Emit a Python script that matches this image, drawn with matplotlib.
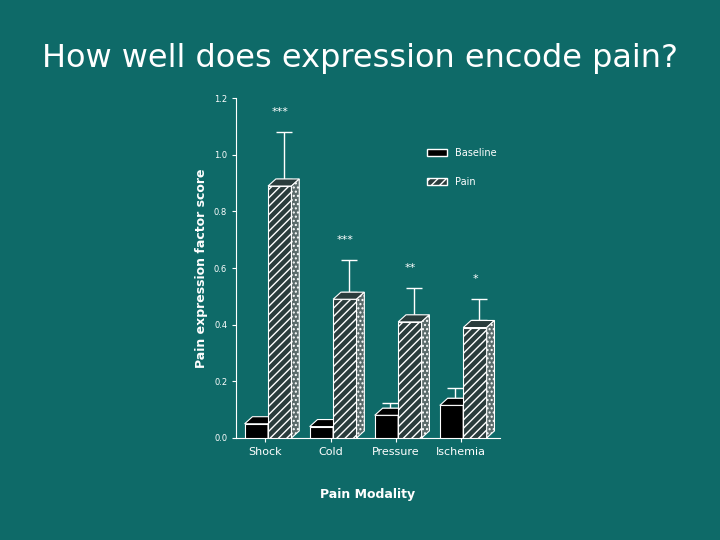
import matplotlib
matplotlib.use("Agg")
import matplotlib.pyplot as plt
import numpy as np
from matplotlib.patches import Polygon, Patch

categories = ["Shock", "Cold", "Pressure", "Ischemia"]
baseline = [0.05, 0.04, 0.08, 0.115]
baseline_err = [0.0, 0.0, 0.045, 0.06]
pain = [0.89, 0.49, 0.41, 0.39]
pain_err = [0.19, 0.14, 0.12, 0.10]
stars = ["***", "***", "**", "*"]

fig = plt.figure(figsize=(7.2, 5.4), dpi=100)
fig.patch.set_facecolor("#0e6a68")
fig.text(0.5, 0.875, "How well does expression encode pain?", color="white",
         fontsize=23, ha="center")

ax = fig.add_axes([0.328, 0.189, 0.366, 0.629])
ax.set_facecolor("none")
x = np.arange(len(categories))
w = 0.36
dx, dy = 0.12, 0.025
for i in range(len(categories)):
    xb = x[i] - 0.37
    xp = x[i] - 0.01
    for xs, v, e, fc, h in [(xb, baseline[i], baseline_err[i], "black", None),
                            (xp, pain[i], pain_err[i], "#2a3c3c", "////")]:
        ax.bar(xs, v, width=w, align="edge", color=fc, edgecolor="white",
               hatch=h, linewidth=0.8, zorder=3)
        ax.add_patch(Polygon([(xs, v), (xs + dx, v + dy), (xs + w + dx, v + dy), (xs + w, v)],
                             closed=True, fc=fc, ec="white", lw=0.8, zorder=3))
        ax.add_patch(Polygon([(xs + w, 0), (xs + w + dx, dy), (xs + w + dx, v + dy), (xs + w, v)],
                             closed=True, fc="#5a6a6a", ec="white", lw=0.8, hatch="....", zorder=3))
        if e > 0:
            ax.errorbar(xs + w / 2 + dx / 2, v + dy, yerr=[[0], [e - dy]], color="white",
                        capsize=6, lw=1, zorder=2)
    ax.text(xp + w / 2, pain[i] + pain_err[i] + 0.06, stars[i], color="white",
            ha="center", fontsize=8)

ax.set_ylim(0, 1.2)
ax.set_xlim(-0.5, 3.55)
ax.set_yticks(np.arange(0, 1.21, 0.2))
ax.set_yticklabels([f"{t:.1f}" for t in np.arange(0, 1.21, 0.2)], fontsize=6, color="white")
ax.set_xticks(x - 0.05)
ax.set_xticklabels(categories, fontsize=8, color="white")
ax.tick_params(colors="white", length=3)
for s in ["top", "right"]:
    ax.spines[s].set_visible(False)
for s in ["left", "bottom"]:
    ax.spines[s].set_color("white")
ax.set_ylabel("Pain expression factor score", color="white", fontsize=9, fontweight="bold")
ax.set_xlabel("Pain Modality", color="white", fontsize=9, fontweight="bold", labelpad=22)

ax.legend(handles=[Patch(fc="black", ec="white", label="Baseline"),
                   Patch(fc="#2a3c3c", ec="white", hatch="////", label="Pain")],
          loc="upper right", bbox_to_anchor=(1.02, 0.88), frameon=False,
          labelcolor="white", fontsize=7, labelspacing=2)
fig.savefig("out.png", dpi=100, facecolor=fig.get_facecolor())
